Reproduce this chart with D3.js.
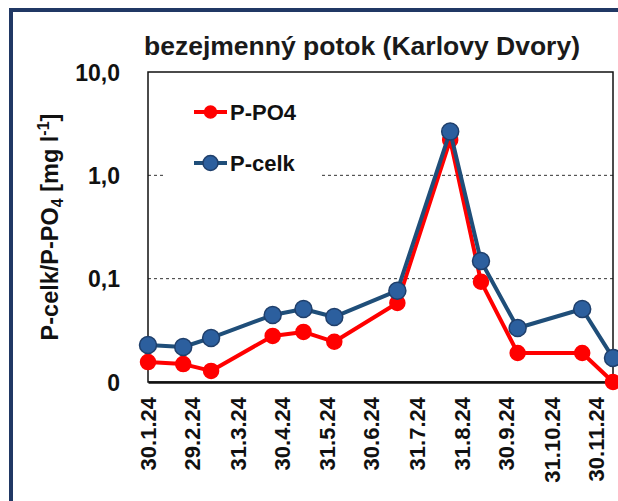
<!DOCTYPE html>
<html>
<head>
<meta charset="utf-8">
<script src="https://cdn.jsdelivr.net/npm/d3@7"></script>
<style>
  html, body { margin: 0; padding: 0; background: #fff; }
  svg { display: block; }
</style>
</head>
<body>
<div id="chart"></div>
<script>
// ----------------------------
// Data
// ----------------------------
const sampleDates = ["2024-01-30", "2024-02-23", "2024-03-13", "2024-04-24", "2024-05-15", "2024-06-05",
                     "2024-07-18", "2024-08-23", "2024-09-13", "2024-10-08", "2024-11-21", "2024-12-12"];
const pPO4Values  = [0.0156, 0.0149, 0.0128, 0.0279, 0.0305, 0.0245, 0.0581, 2.2, 0.0935, 0.0191, 0.0191, 0.0100];
const pCelkValues = [0.0228, 0.0218, 0.0267, 0.0445, 0.0509, 0.0426, 0.0765, 2.66, 0.148, 0.0333, 0.0509, 0.0171];

const xTickDates  = ["2024-01-30", "2024-02-29", "2024-03-31", "2024-04-30", "2024-05-31", "2024-06-30",
                     "2024-07-31", "2024-08-31", "2024-09-30", "2024-10-31", "2024-11-30"];
const xTickLabels = ["30.1.24", "29.2.24", "31.3.24", "30.4.24", "31.5.24", "30.6.24",
                     "31.7.24", "31.8.24", "30.9.24", "31.10.24", "30.11.24"];
const yTickValues = [0.01, 0.1, 1, 10];
const yTickLabels = ["0", "0,1", "1,0", "10,0"];
const yGridValues = [0.1, 1];

const seriesNames = ["P-PO4", "P-celk"];

const parseDate = d3.timeParse("%Y-%m-%d");

// ----------------------------
// Chart
// ----------------------------
const width = 618;
const height = 501;
const marginTop = 72;
const marginRight = 5;
const marginBottom = 119;
const marginLeft = 148;

const x = d3.scaleTime()
    .domain([parseDate("2024-01-30"), parseDate("2024-12-12")])
    .range([marginLeft, width - marginRight]);

const y = d3.scaleLog()
    .domain([0.01, 10])
    .range([height - marginBottom, marginTop]);

const svg = d3.create("svg")
    .attr("width", width)
    .attr("height", height)
    .attr("viewBox", [0, 0, width, height]);

svg.append("rect")
    .attr("width", width)
    .attr("height", height)
    .attr("fill", "#fff");

// Outer dark blue frame (top and left visible)
svg.append("path")
    .attr("d", `M11,${height} L11,10 L${width},10`)
    .attr("fill", "none")
    .attr("stroke", "#203864")
    .attr("stroke-width", 4);

// Title
svg.append("text")
    .attr("x", 362)
    .attr("y", 55)
    .attr("text-anchor", "middle")
    .attr("textLength", 436)
    .attr("lengthAdjust", "spacingAndGlyphs")
    .style("font-family", "'Liberation Sans', Arial, sans-serif")
    .style("font-weight", "bold")
    .style("font-size", "26px")
    .style("fill", "#1a1a1a")
    .text("bezejmenný potok (Karlovy Dvory)");

// Dashed gridlines
svg.append("g")
    .selectAll("line")
    .data(yGridValues)
    .join("line")
        .attr("x1", marginLeft)
        .attr("x2", width - marginRight)
        .attr("y1", d => y(d))
        .attr("y2", d => y(d))
        .attr("stroke", "#333")
        .attr("stroke-width", 1)
        .attr("stroke-dasharray", "3,3");

// Plot frame
svg.append("rect")
    .attr("x", marginLeft)
    .attr("y", marginTop)
    .attr("width", width - marginRight - marginLeft)
    .attr("height", height - marginBottom - marginTop)
    .attr("fill", "none")
    .attr("stroke", "#111")
    .attr("stroke-width", 1.5);

// Vertical axis
const yAxis = svg.append("g")
    .attr("transform", `translate(${marginLeft},0)`)
    .call(d3.axisLeft(y)
        .tickValues(yTickValues)
        .tickFormat((d, i) => yTickLabels[i])
        .tickSize(0)
        .tickPadding(28));
yAxis.select(".domain").remove();
yAxis.selectAll("text")
    .attr("dy", "0.35em")
    .style("font-family", "'Liberation Sans', Arial, sans-serif")
    .style("font-weight", "bold")
    .style("font-size", "23px")
    .style("fill", "#111");

// Horizontal axis
const xAxis = svg.append("g")
    .attr("transform", `translate(0,${height - marginBottom})`)
    .call(d3.axisBottom(x)
        .tickValues(xTickDates.map(parseDate))
        .tickFormat((d, i) => xTickLabels[i])
        .tickSize(0)
        .tickPadding(0));
xAxis.select(".domain")
    .attr("stroke", "#111")
    .attr("stroke-width", 2.5);
xAxis.selectAll("text")
    .attr("transform", "rotate(-90)")
    .attr("text-anchor", "end")
    .attr("x", -15)
    .attr("y", 0)
    .attr("dy", "0.36em")
    .style("font-family", "'Liberation Sans', Arial, sans-serif")
    .style("font-weight", "bold")
    .style("font-size", "22px")
    .style("fill", "#111");

// Y axis title with subscript and superscript
const yTitle = svg.append("text")
    .attr("transform", `translate(58,${(marginTop + height - marginBottom) / 2}) rotate(-90)`)
    .attr("text-anchor", "middle")
    .style("font-family", "'Liberation Sans', Arial, sans-serif")
    .style("font-weight", "bold")
    .style("font-size", "23.5px")
    .style("fill", "#111");
yTitle.append("tspan").text("P-celk/P-PO");
yTitle.append("tspan").attr("dy", 5).style("font-size", "16px").text("4");
yTitle.append("tspan").attr("dy", -5).text(" [mg l");
yTitle.append("tspan").attr("dy", -9).style("font-size", "16px").text("-1");
yTitle.append("tspan").attr("dy", 9).text("]");

// Series
const series = [
    { name: seriesNames[0], values: pPO4Values, line: "#ff0000", fill: "#ff0000", outline: "#ff0000", r: 7.5, lr: 6 },
    { name: seriesNames[1], values: pCelkValues, line: "#1f4e79", fill: "#2c5f9e", outline: "#1f3f6b", r: 8.5, lr: 7.5 }
];

const line = d3.line()
    .x(d => x(d.date))
    .y(d => y(d.value));

series.forEach(s => {
    const pts = sampleDates.map((d, i) => ({ date: parseDate(d), value: s.values[i] }));
    svg.append("path")
        .datum(pts)
        .attr("d", line)
        .attr("fill", "none")
        .attr("stroke", s.line)
        .attr("stroke-width", 4)
        .attr("stroke-linejoin", "round");
    svg.append("g")
        .selectAll("circle")
        .data(pts)
        .join("circle")
            .attr("cx", d => x(d.date))
            .attr("cy", d => y(d.value))
            .attr("r", s.r)
            .attr("fill", s.fill)
            .attr("stroke", s.outline)
            .attr("stroke-width", 1.5);
});

// Legend
svg.append("rect")
    .attr("x", 165)
    .attr("y", 90)
    .attr("width", 155)
    .attr("height", 95)
    .attr("fill", "#fff");

const legend = svg.append("g")
    .selectAll("g")
    .data(series)
    .join("g")
        .attr("transform", (d, i) => `translate(194,${112 + i * 51})`);
legend.append("line")
    .attr("x1", 0)
    .attr("x2", 33)
    .attr("stroke", d => d.line)
    .attr("stroke-width", 4);
legend.append("circle")
    .attr("cx", 16.5)
    .attr("r", d => d.lr)
    .attr("fill", d => d.fill)
    .attr("stroke", d => d.outline)
    .attr("stroke-width", 1.5);
legend.append("text")
    .attr("x", 36)
    .attr("dy", "0.36em")
    .style("font-family", "'Liberation Sans', Arial, sans-serif")
    .style("font-weight", "bold")
    .style("font-size", "22px")
    .style("fill", "#111")
    .text(d => d.name);

document.getElementById("chart").appendChild(svg.node());
</script>
</body>
</html>
